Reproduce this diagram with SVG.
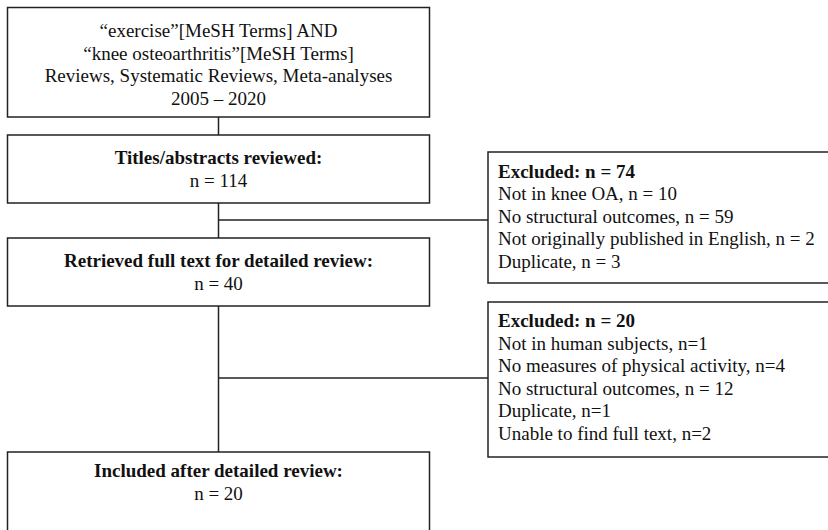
<svg xmlns="http://www.w3.org/2000/svg" width="828" height="530" viewBox="0 0 828 530">
<style>
.box{fill:#fff;stroke:#222;stroke-width:1.5}
.ln{stroke:#222;stroke-width:1.5;fill:none}
text{font-family:"Liberation Serif","Times New Roman",serif;font-size:19px;fill:#111}
.c{text-anchor:middle}
.b{font-weight:bold}
</style>
<rect width="828" height="530" fill="#fff"/>
<g id="connectors">
<line class="ln" x1="218.5" y1="117" x2="218.5" y2="135"/>
<line class="ln" x1="218.5" y1="203" x2="218.5" y2="238"/>
<line class="ln" x1="218.5" y1="220" x2="488" y2="220"/>
<line class="ln" x1="218.5" y1="306" x2="218.5" y2="452"/>
<line class="ln" x1="218.5" y1="378" x2="488" y2="378"/>
</g>
<g id="search">
<rect class="box" x="7.5" y="7.5" width="422" height="109.5"/>
<text class="c" x="218.5" y="37">“exercise”[MeSH Terms] AND</text>
<text class="c" x="218.5" y="59.5">“knee osteoarthritis”[MeSH Terms]</text>
<text class="c" x="218.5" y="82">Reviews, Systematic Reviews, Meta-analyses</text>
<text class="c" x="218.5" y="104.5">2005 – 2020</text>
</g>
<g id="titles">
<rect class="box" x="7.5" y="135" width="422" height="68"/>
<text class="c b" x="218.5" y="163.5">Titles/abstracts reviewed:</text>
<text class="c" x="218.5" y="186.5">n = 114</text>
</g>
<g id="fulltext">
<rect class="box" x="7.5" y="238" width="422" height="68"/>
<text class="c b" x="218.5" y="266.5">Retrieved full text for detailed review:</text>
<text class="c" x="218.5" y="289.5">n = 40</text>
</g>
<g id="included">
<rect class="box" x="7.5" y="452" width="422" height="90"/>
<text class="c b" x="218.5" y="477">Included after detailed review:</text>
<text class="c" x="218.5" y="500">n = 20</text>
</g>
<g id="excluded1">
<rect class="box" x="488" y="152" width="360" height="131"/>
<text class="b" x="498" y="177.5">Excluded: n = 74</text>
<text x="498" y="200">Not in knee OA, n = 10</text>
<text x="498" y="222.5">No structural outcomes, n = 59</text>
<text x="498" y="245">Not originally published in English, n = 2</text>
<text x="498" y="267.5">Duplicate, n = 3</text>
</g>
<g id="excluded2">
<rect class="box" x="488" y="302" width="360" height="155"/>
<text class="b" x="498" y="327">Excluded: n = 20</text>
<text x="498" y="349.5">Not in human subjects, n=1</text>
<text x="498" y="372">No measures of physical activity, n=4</text>
<text x="498" y="394.5">No structural outcomes, n = 12</text>
<text x="498" y="417">Duplicate, n=1</text>
<text x="498" y="439.5">Unable to find full text, n=2</text>
</g>
</svg>
